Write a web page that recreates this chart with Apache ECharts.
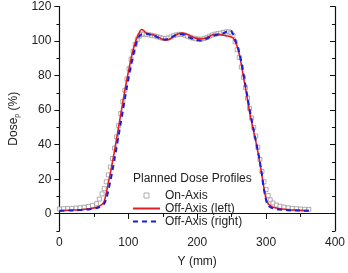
<!DOCTYPE html>
<html>
<head>
<meta charset="utf-8">
<script src="https://cdn.jsdelivr.net/npm/echarts@6/dist/echarts.min.js"></script>
<style>
  html, body { margin: 0; padding: 0; background: #fff; }
  #chart { width: 348px; height: 273px; }
</style>
</head>
<body>
<div id="chart"></div>
<script>
// position along Y (mm), shared by all three profiles
var posMm = [0, 6, 12, 18, 24, 30, 36, 42, 48, 54, 58, 62,
  65, 68, 71, 74, 77, 80, 83, 86, 89, 92, 95, 98, 101, 104, 107, 110, 113, 116, 119, 122,
  126, 130, 134, 138, 142, 146, 150, 154, 158, 162, 166, 170, 174, 178, 182, 186, 190, 194,
  198, 202, 206, 210, 214, 218, 222, 226, 230, 234, 238, 242, 246, 249, 252,
  255, 258, 261, 264, 267, 270, 273, 276, 279, 282, 285, 288, 291, 294, 297, 300, 303,
  306, 310, 315, 320, 326, 332, 338, 344, 350, 356, 362];

// planned dose (%), on axis
var onAxis = [2.8, 2.9, 3.0, 3.1, 3.3, 3.5, 3.8, 4.2, 4.8, 5.8, 8.5, 11.5,
  14.5, 18.5, 22.5, 27, 32, 38, 44.5, 51, 58, 65, 71.5, 78, 84, 89.5, 94, 98, 101, 102.7, 103.7, 104,
  103.9, 103.6, 103.3, 103, 102.5, 102, 101.6, 101.5, 101.8, 102.4, 103.1, 103.6, 103.9, 103.8, 103.4, 102.8, 102.2, 101.7,
  101.3, 101.1, 101.1, 101.4, 102, 102.8, 103.5, 104, 104.3, 104.6, 105, 105.3, 105.3, 104.8, 103.2,
  99.5, 95, 90.5, 85, 79, 73, 67, 61, 55.5, 50, 45, 38.5, 31.5, 24.5, 18.5, 14, 10.5,
  8, 6.2, 5, 4.3, 3.8, 3.4, 3.1, 2.9, 2.7, 2.6, 2.5];

// off axis, left
var offLeft = [1.8, 1.9, 2.0, 2.1, 2.2, 2.3, 2.5, 2.8, 3.1, 3.7, 4.4, 5.5,
  7, 12, 18, 23.5, 30, 36.5, 43.5, 50.5, 57.5, 64.5, 71.5, 78, 84, 90, 95, 99, 102.5, 105, 106.7, 106.2,
  104.6, 103.9, 103.7, 103.3, 102.5, 101.7, 101, 100.6, 100.8, 101.6, 102.8, 103.8, 104.4, 104.6, 104.3, 103.8, 103, 102.2,
  101.7, 101.4, 101.3, 101.5, 102, 102.8, 103.5, 103.9, 104, 103.7, 103.3, 103, 102.8, 102.4, 101.8,
  99.8, 97, 92.5, 86.5, 79.5, 73, 66, 59, 53, 47.5, 42, 36, 29.5, 22, 14.5, 8.5, 5.8,
  4.8, 3.8, 3.3, 2.9, 2.6, 2.4, 2.2, 2.1, 2.0, 1.9, 1.9];

// off axis, right
var offRight = [1.6, 1.7, 1.8, 1.9, 2.0, 2.1, 2.3, 2.5, 2.8, 3.3, 3.9, 4.8,
  5.8, 8.5, 13.5, 19, 25, 31.5, 38.5, 45.5, 52.5, 59.5, 66.5, 73.5, 80, 86, 91.5, 96.5, 100.5, 102.8, 103.8, 104.2,
  104.2, 103.9, 103.4, 102.9, 102.3, 101.6, 101.1, 100.9, 101.2, 102, 102.9, 103.6, 104, 103.9, 103.4, 102.7, 101.9, 101.2,
  100.7, 100.4, 100.3, 100.6, 101.4, 102.3, 103, 103.4, 103.6, 103.9, 104.5, 105.3, 106, 105.8, 104,
  100.8, 97.5, 93.5, 88, 81.5, 74.5, 67.5, 60.5, 54.5, 48.5, 42.5, 36.5, 30, 22.5, 14, 7.8, 4.8,
  3.8, 3.1, 2.7, 2.4, 2.2, 2.0, 1.9, 1.8, 1.8, 1.7, 1.7];

var yMajor = [0, 20, 40, 60, 80, 100, 120];
var yMinor = [-10, 10, 30, 50, 70, 90, 110];

function pairs(ys) {
  return posMm.map(function (x, i) { return [x, ys[i]]; });
}

var FONT = 'Liberation Sans';
var INK = '#222';
var SQ = '#999';

var chart = echarts.init(document.getElementById('chart'));

var option = {
  animation: false,
  textStyle: { fontFamily: FONT },
  grid: { left: 56, right: 12, top: 6.5, bottom: 38.5 },
  title: {
    text: 'Planned Dose Profiles',
    left: 128, top: 168,
    textStyle: { fontSize: 12, fontWeight: 'normal', color: INK, fontFamily: FONT }
  },
  legend: {
    orient: 'vertical',
    left: 127, top: 184,
    itemWidth: 27, itemHeight: 5, itemGap: 0,
    textStyle: { fontSize: 12, color: INK, fontFamily: FONT, lineHeight: 13 },
    data: [
      { name: 'On-Axis', icon: 'path://M0,0L10,0L10,10L0,10Z',
        itemStyle: { color: '#fff', borderColor: SQ, borderWidth: 1 } },
      { name: 'Off-Axis (left)', itemStyle: { opacity: 0 } },
      { name: 'Off-Axis (right)', itemStyle: { opacity: 0 } }
    ]
  },
  xAxis: [
    {
      type: 'value', position: 'bottom', min: 0, max: 400, interval: 100,
      name: 'Y (mm)', nameLocation: 'middle', nameGap: 25,
      nameTextStyle: { fontSize: 12, color: INK },
      axisLine: { lineStyle: { color: '#111', width: 1.2 } },
      axisTick: { length: 5, lineStyle: { color: '#111' } },
      minorTick: { show: true, splitNumber: 2, length: 3, lineStyle: { color: '#111' } },
      axisLabel: { fontSize: 12, color: INK, margin: 6 },
      splitLine: { show: false }
    },
    {
      type: 'value', position: 'top', min: 0, max: 400, interval: 100,
      axisLine: { lineStyle: { color: '#111', width: 1.2 } },
      axisTick: { inside: true, length: 5, lineStyle: { color: '#111' } },
      minorTick: { show: true, splitNumber: 2, length: 3, lineStyle: { color: '#111' } },
      axisLabel: { show: false },
      splitLine: { show: false }
    }
  ],
  yAxis: [
    {
      type: 'value', position: 'left', min: -10, max: 120,
      name: 'Dose{sub|p} (%)', nameLocation: 'middle', nameGap: 36,
      nameTextStyle: {
        fontSize: 12, color: INK,
        rich: { sub: { fontSize: 7, color: INK, verticalAlign: 'bottom', padding: [6, 0, 0, 0] } }
      },
      axisLine: { lineStyle: { color: '#111', width: 1.2 } },
      axisTick: { length: 5, customValues: yMajor, lineStyle: { color: '#111' } },
      axisLabel: { fontSize: 12, color: INK, margin: 8, customValues: yMajor },
      splitLine: { show: false }
    },
    {
      type: 'value', position: 'left', min: -10, max: 120,
      axisLine: { show: false },
      axisTick: { length: 3, customValues: yMinor, lineStyle: { color: '#111' } },
      axisLabel: { show: false },
      splitLine: { show: false }
    },
    {
      type: 'value', position: 'right', min: -10, max: 120,
      axisLine: { show: true, lineStyle: { color: '#111', width: 1.2 } },
      axisTick: { inside: true, length: 5, customValues: yMajor, lineStyle: { color: '#111' } },
      axisLabel: { show: false },
      splitLine: { show: false }
    },
    {
      type: 'value', position: 'right', min: -10, max: 120,
      axisLine: { show: false },
      axisTick: { inside: true, length: 3, customValues: yMinor, lineStyle: { color: '#111' } },
      axisLabel: { show: false },
      splitLine: { show: false }
    }
  ],
  series: [
    {
      name: 'On-Axis', type: 'scatter',
      symbol: 'rect', symbolSize: 4,
      itemStyle: { color: '#fff', borderColor: SQ, borderWidth: 1 },
      data: pairs(onAxis)
    },
    {
      name: 'Off-Axis (left)', type: 'line',
      symbol: 'none', smooth: 0.3,
      lineStyle: { color: '#e41e26', width: 1.6 },
      itemStyle: { color: '#e41e26' },
      data: pairs(offLeft)
    },
    {
      name: 'Off-Axis (right)', type: 'line',
      symbol: 'none', smooth: 0.3,
      lineStyle: { color: '#1d1fd6', width: 2, type: [5, 4] },
      itemStyle: { color: '#1d1fd6' },
      data: pairs(offRight)
    }
  ]
};

chart.setOption(option);
</script>
</body>
</html>
